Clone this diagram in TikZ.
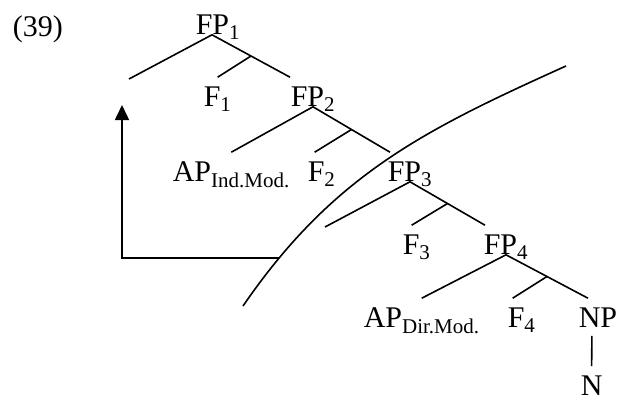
\documentclass[tikz,border=0pt]{standalone}
\usepackage{fontspec}
\setmainfont{Liberation Serif}
\usetikzlibrary{arrows.meta}

\begin{document}
\begin{tikzpicture}[x=1pt,y=-1pt,line width=1.6pt,
  lbl/.style={anchor=base west,inner sep=0pt,text height=28pt,text depth=0pt,
    font=\fontsize{30}{36}\selectfont}]
\useasboundingbox (0,0) rectangle (618,400);

\node[lbl] (num) at (12,36) {(39)};
\node[lbl] (fp1) at (195,34) {FP\textsubscript{1}};
\node[lbl] (f1) at (203,106) {F\textsubscript{1}};
\node[lbl] (fp2) at (290,106) {FP\textsubscript{2}};
\node[lbl] (apind) at (172,181) {AP\textsubscript{Ind.Mod.}};
\node[lbl] (f2) at (307,181) {F\textsubscript{2}};
\node[lbl] (fp3) at (387,181) {FP\textsubscript{3}};
\node[lbl] (f3) at (402,254) {F\textsubscript{3}};
\node[lbl] (fp4) at (483,254) {FP\textsubscript{4}};
\node[lbl] (apdir) at (363,327) {AP\textsubscript{Dir.Mod.}};
\node[lbl] (f4) at (507,327) {F\textsubscript{4}};
\node[lbl] (np) at (578,327) {NP};
\node[lbl] (n) at (580,395) {N};

\coordinate (t1) at (129,79);
\coordinate (t3) at (325,227);
\coordinate (landing) at (122,105);

\draw (t1) -- ([xshift=-6pt]fp1.south) -- (fp2.north west) coordinate[midway] (m1);
\draw (m1) -- (f1.north);
\draw (apind.north) -- (fp2.south) -- ([xshift=3pt]fp3.north west) coordinate[midway] (m2);
\draw (m2) -- ([xshift=-7pt]f2.north);
\draw (t3) -- (fp3.south) -- ([xshift=2pt]fp4.north west) coordinate[midway] (m3);
\draw (m3) -- ([xshift=-5pt]f3.north);
\draw (apdir.north) -- (fp4.south) -- ([xshift=-10pt]np.north) coordinate[midway] (m4);
\draw (m4) -- ([xshift=-9pt]f4.north);
\draw[shorten <=8pt,shorten >=0pt] ([xshift=-6pt]np.south) -- (n.north);

% movement line
\draw (243,306) .. controls (333,175) and (424,130) .. (566,66) coordinate[pos=.133] (cross);
\draw[-{Triangle[length=15pt,width=14pt]}] (cross) -| (landing);
\end{tikzpicture}
\end{document}
